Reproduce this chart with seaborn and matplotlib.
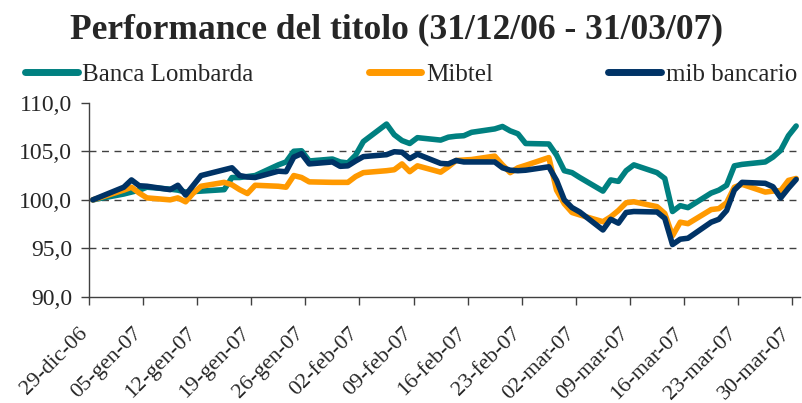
import numpy as np
import pandas as pd
import matplotlib
matplotlib.use("Agg")
import matplotlib.pyplot as plt
import matplotlib.transforms as mtransforms
from matplotlib.ticker import FuncFormatter
import seaborn as sns

# Data (trading days 29/12/06 - 30/03/07, base 100)
giorni = pd.bdate_range("2006-12-29", "2007-03-30", freq="C", holidays=["2007-01-01"])

banca_lombarda = [100.0, 100.6, 100.8, 101.0, 101.3, 101.1, 101.0, 100.8, 100.85, 100.9,
                  101.05, 102.3, 102.3, 102.4, 102.5, 103.6, 103.9, 105.0, 105.05, 104.0,
                  104.2, 103.9, 103.8, 104.6, 106.0, 107.8, 106.7, 106.1, 105.8, 106.4,
                  106.15, 106.45, 106.55, 106.6, 106.95, 107.3, 107.55, 107.1, 106.8, 105.8,
                  105.75, 104.6, 103.0, 102.8, 102.3, 100.9, 102.05, 101.9, 103.0, 103.6,
                  102.8, 102.2, 98.8, 99.4, 99.2, 100.7, 101.0, 101.5, 103.5, 103.65,
                  103.9, 104.4, 105.1, 106.6, 107.6]
mibtel = [100.0, 101.0, 101.3, 100.7, 100.2, 100.0, 100.2, 99.8, 100.7, 101.4,
          101.8, 101.55, 101.05, 100.65, 101.5, 101.4, 101.3, 102.5, 102.3, 101.85,
          101.8, 101.8, 101.8, 102.4, 102.8, 103.0, 103.1, 103.7, 102.9, 103.5,
          102.85, 103.4, 104.05, 104.1, 104.15, 104.5, 103.6, 102.8, 103.3, 103.55,
          104.35, 101.0, 99.6, 98.7, 98.45, 97.75, 98.25, 98.9, 99.7, 99.8,
          99.3, 98.6, 96.3, 97.7, 97.55, 99.0, 99.1, 99.7, 101.3, 101.6,
          100.8, 100.9, 100.95, 102.0, 102.2]
mib_bancario = [100.0, 101.3, 102.05, 101.45, 101.4, 101.05, 101.5, 100.5, 101.5, 102.5,
                103.1, 103.3, 102.5, 102.35, 102.3, 102.95, 102.9, 104.4, 104.75, 103.7,
                103.9, 103.45, 103.5, 104.0, 104.45, 104.65, 104.95, 104.9, 104.25, 104.7,
                103.75, 103.7, 104.05, 103.9, 103.9, 103.9, 103.3, 103.05, 103.0, 103.05,
                103.4, 102.0, 100.0, 99.2, 98.75, 96.9, 98.0, 97.6, 98.7, 98.8,
                98.75, 98.1, 95.4, 95.95, 96.05, 97.7, 98.0, 98.9, 101.0, 101.8,
                101.7, 101.35, 100.2, 101.2, 102.1]

serie = ["Banca Lombarda", "Mibtel", "mib bancario"]
colori = ["#008080", "#FF9900", "#003366"]
etichette_x = ["29-dic-06", "05-gen-07", "12-gen-07", "19-gen-07", "26-gen-07",
               "02-feb-07", "09-feb-07", "16-feb-07", "23-feb-07", "02-mar-07",
               "09-mar-07", "16-mar-07", "23-mar-07", "30-mar-07"]

# long format; points sit in the middle of each day (Excel date axis)
df = pd.DataFrame({
    "data": np.tile(giorni + pd.Timedelta(hours=12), 3),
    "valore": banca_lombarda + mibtel + mib_bancario,
    "titolo": np.repeat(serie, len(giorni)),
})

sns.set_style("white")
plt.rcParams["font.family"] = ["Liberation Serif", "DejaVu Serif"]

fig = plt.figure(figsize=(8.03, 4.03), dpi=100)
ax = fig.add_axes([0.1108, 0.263, 0.8855, 0.4822])

sns.lineplot(data=df, x="data", y="valore", hue="titolo", hue_order=serie,
             palette=colori, linewidth=4, ax=ax, legend=True)
handles, labels = ax.get_legend_handles_labels()
ax.get_legend().remove()

# Axes
ax.set_xlim(pd.Timestamp("2006-12-29"), pd.Timestamp("2007-03-31"))
ax.set_ylim(90, 110)
ax.set_yticks([90, 95, 100, 105, 110])
ax.yaxis.set_major_formatter(FuncFormatter(lambda v, p: f"{v:.1f}".replace(".", ",")))
tick_date = pd.date_range("2006-12-29", "2007-03-30", freq="7D")
ax.set_xticks(tick_date)
ax.set_xticklabels(etichette_x, rotation=45, ha="right", rotation_mode="anchor")
ax.set_xlabel("")
ax.set_ylabel("")

ax.tick_params(axis="y", direction="out", length=6, width=1, color="#404040",
               labelsize=17, pad=6, left=True)
ax.tick_params(axis="x", direction="out", length=6, width=1, color="#404040",
               labelsize=16, pad=13.5, bottom=True)
sposta = mtransforms.ScaledTranslation(-11 / 100, 0, fig.dpi_scale_trans)
for lab in ax.get_xticklabels():
    lab.set_transform(lab.get_transform() + sposta)

for s in ["top", "right"]:
    ax.spines[s].set_visible(False)
for s in ["left", "bottom"]:
    ax.spines[s].set_color("#404040")
    ax.spines[s].set_linewidth(1)

ax.yaxis.grid(True, color="#404040", linestyle=(0, (5, 4)), linewidth=1)
ax.xaxis.grid(False)
gl = ax.get_ygridlines()
gl[0].set_visible(False)
gl[-1].set_visible(False)

# Decorations
fig.text(0.494, 0.925, "Performance del titolo (31/12/06 - 31/03/07)",
         fontsize=25.5, fontweight="bold", ha="center", va="center")
fig.legend(handles, labels, loc="center", ncol=3, mode="expand", frameon=False,
           bbox_to_anchor=(25 / 803, 0.814 - 0.03, 772 / 803, 0.06),
           borderaxespad=0, borderpad=0, handlelength=2.1, handletextpad=0.2,
           fontsize=18)
for h in fig.legends[0].legend_handles:
    h.set_linewidth(5)
    h.set_solid_capstyle("round")

fig.savefig("out.png", dpi=100)
